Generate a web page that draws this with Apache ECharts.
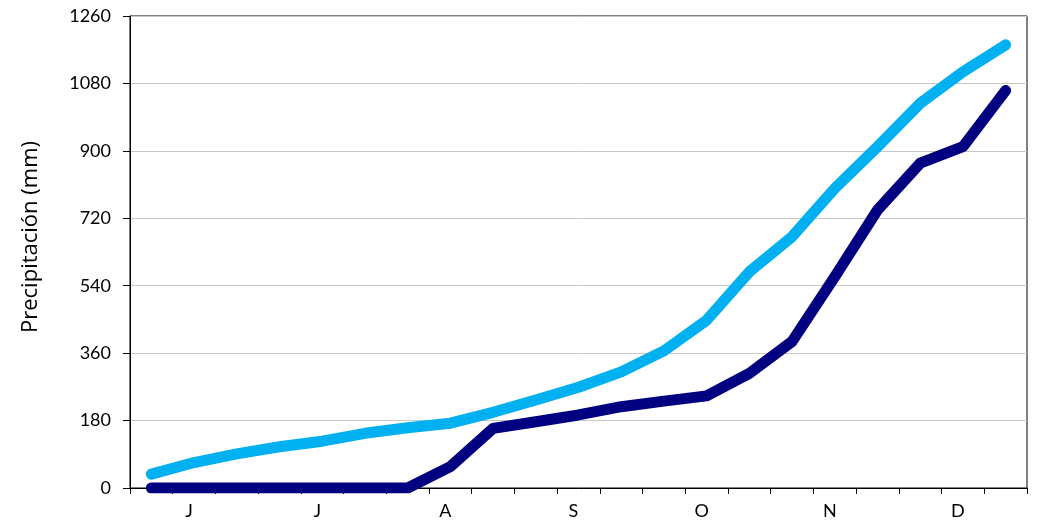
<!DOCTYPE html>
<html>
<head>
<meta charset="utf-8">
<script src="https://cdn.jsdelivr.net/npm/echarts@6/dist/echarts.min.js"></script>
<style>
html,body{margin:0;padding:0;background:#fff;}
#c{width:1038px;height:530px;}
</style>
</head>
<body>
<div id="c"></div>
<script>
const months = ['J','J','A','S','O','N','D'];
const dekads = ['1','2','3'];
const yTicks = [0,180,360,540,720,900,1080,1260];
const yTitle = 'Precipitación (mm)';
const seriesLight = [37,68,91,110,125,146,161,173,202,235,269,310,366,448,577,671,800,911,1027,1111,1183];
const seriesDark  = [0,0,0,0,0,0,0,57,159,177,195,217,232,246,306,391,564,742,867,911,1061];

const categories = [];
months.forEach((m,i)=>dekads.forEach(d=>categories.push(i+'-'+m+'-'+d)));

const font = 'Lato, "Open Sans", sans-serif';
const chart = echarts.init(document.getElementById('c'));
chart.setOption({
  animation:false,
  grid:{left:130,right:11,top:16,bottom:42,show:true,borderColor:'#000',borderWidth:1,containLabel:false},
  graphic:[{
    type:'text',
    x:31,y:237,rotation:Math.PI/2,
    style:{text:yTitle,fill:'#000',font:'22px "Open Sans", sans-serif',align:'center',verticalAlign:'middle'}
  }],
  xAxis:{
    type:'category',
    data:categories,
    boundaryGap:true,
    axisLine:{lineStyle:{color:'#000',width:1}},
    axisTick:{show:true,length:6,interval:0,lineStyle:{color:'#000'}},
    axisLabel:{
      interval:0,
      color:'#000',fontSize:18,fontFamily:font,margin:14,
      padding:[0,10,0,0],
      formatter:(v,idx)=> (idx%3===1 ? v.split('-')[1] : '')
    },
    splitLine:{show:false}
  },
  yAxis:{
    type:'value',
    min:yTicks[0],max:yTicks[yTicks.length-1],interval:180,
    axisLine:{show:true,lineStyle:{color:'#000',width:1}},
    axisTick:{show:true,length:7,lineStyle:{color:'#000'}},
    axisLabel:{color:'#000',fontSize:18,fontFamily:font,margin:19,formatter:v=>String(v)},
    splitLine:{show:true,lineStyle:{color:'#c8c8c8',width:1}}
  },
  series:[
    {type:'line',data:seriesLight,symbol:'none',lineStyle:{color:'#00B0F0',width:11,cap:'round',join:'round'},z:2},
    {type:'line',data:seriesDark,symbol:'none',lineStyle:{color:'#000080',width:11,cap:'round',join:'round'},z:3}
  ]
});
</script>
</body>
</html>
